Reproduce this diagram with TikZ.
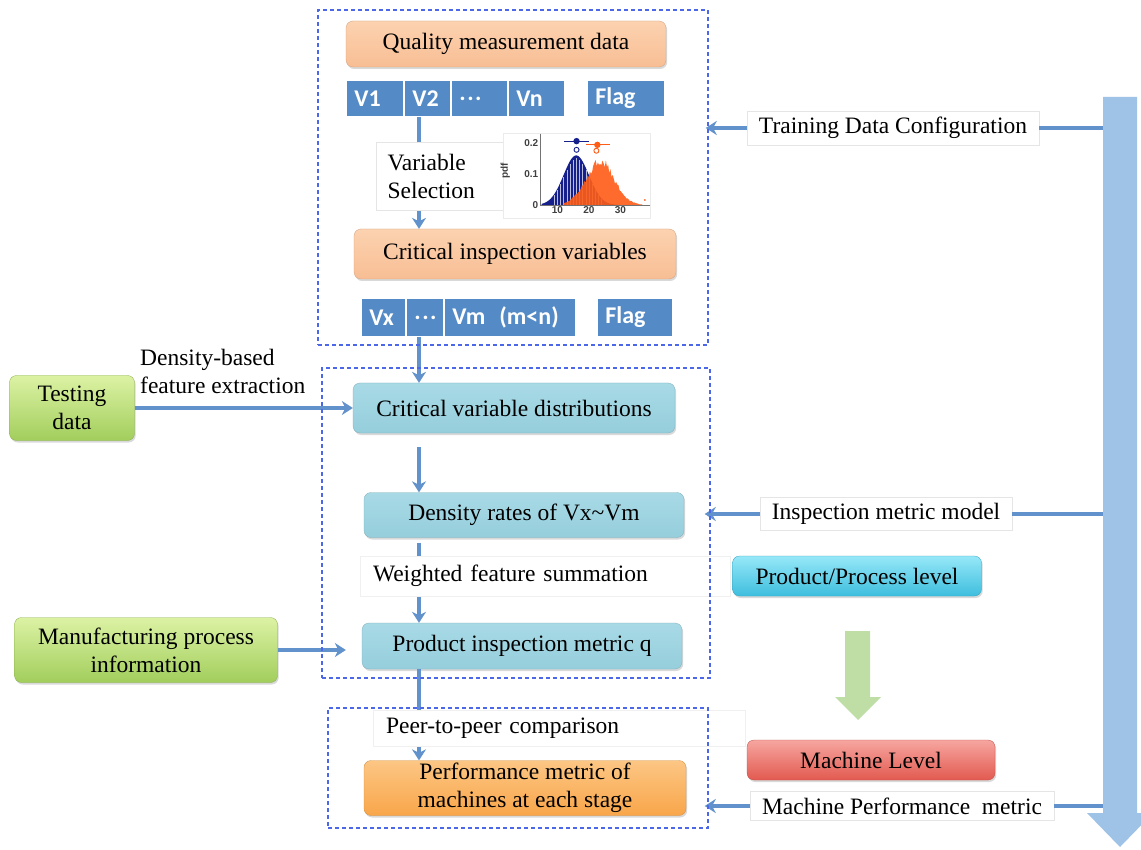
\documentclass[tikz,border=0pt]{standalone}
\usepackage{fontspec}
\setmainfont{Liberation Serif}
\newfontfamily\cellfont{Carlito}
\newfontfamily\plotfont{Liberation Sans}
\usetikzlibrary{calc, positioning, arrows.meta, shadows}
\usepackage{xcolor}
\definecolor{peachtop}{RGB}{252, 210, 176}
\definecolor{peachbot}{RGB}{248, 190, 148}
\definecolor{tealtop}{RGB}{168, 218, 230}
\definecolor{tealbot}{RGB}{150, 206, 220}
\definecolor{greentop}{RGB}{220, 242, 164}
\definecolor{greenbot}{RGB}{162, 206, 92}
\definecolor{orangetop}{RGB}{252, 198, 132}
\definecolor{orangebot}{RGB}{249, 166, 74}
\definecolor{cyantop}{RGB}{150, 232, 248}
\definecolor{cyanbot}{RGB}{62, 190, 222}
\definecolor{redtop}{RGB}{246, 166, 160}
\definecolor{redbot}{RGB}{226, 90, 80}
\definecolor{cellblue}{RGB}{84, 138, 198}
\definecolor{flowblue}{RGB}{98, 146, 204}
\definecolor{dashblue}{RGB}{76, 104, 232}
\definecolor{bigarrow}{RGB}{158, 195, 230}
\definecolor{levelgreen}{RGB}{190, 222, 166}
\definecolor{plotnavy}{RGB}{22, 32, 140}
\definecolor{plotorange}{RGB}{255, 92, 22}

\newcommand\bodysize{\fontsize{23.5}{28}\selectfont}
\newcommand\celldots{.\kern1.5pt.\kern1.5pt.}

\pgfdeclarelayer{front}
\pgfsetlayers{main,front}

\tikzset{
  frame/.style={draw=dashblue, line width=1.4pt, dash pattern=on 4pt off 3pt, inner sep=0pt},
  stage/.style={rounded corners=7pt, inner sep=2pt, align=center,
    drop shadow={opacity=.3, shadow xshift=1.2pt, shadow yshift=-2pt}},
  peachbox/.style={stage, top color=peachtop, bottom color=peachbot, draw=peachbot!85!black, line width=.3pt},
  tealbox/.style={stage, top color=tealtop, bottom color=tealbot, draw=tealbot!85!black, line width=.3pt},
  greenbox/.style={stage, top color=greentop, bottom color=greenbot, draw=greenbot!85!black, line width=.3pt},
  orangebox/.style={stage, top color=orangetop, bottom color=orangebot, draw=orangebot!85!black, line width=.3pt},
  cyanbox/.style={stage, top color=cyantop, bottom color=cyanbot, draw=cyanbot!85!black, line width=.3pt},
  redbox/.style={stage, top color=redtop, bottom color=redbot, draw=redbot!85!black, line width=.3pt},
  cell/.style={anchor=north west, fill=cellblue, draw=white, line width=.8pt, text=white,
    font=\cellfont\bfseries\fontsize{24}{26}\selectfont, inner xsep=8pt, inner ysep=0pt, align=left},
  note/.style={fill=white, draw=black!10, line width=.5pt, inner xsep=12pt, inner ysep=6pt},
  flow/.style={draw=flowblue, line width=3.2pt},
  flowarrow/.style={flow, ->},
  plotlabel/.style={font=\plotfont\bfseries\fontsize{10}{11}\selectfont, text=black!75, inner sep=1.5pt}
}

\begin{document}
\begin{tikzpicture}[x=1pt, y=-1pt, >={Stealth[length=11pt, width=14pt, inset=3.5pt]}, font=\bodysize]
  \useasboundingbox (0,0) rectangle (1141,850);

  % dashed stage frames, kept on top
  \begin{pgfonlayer}{front}
    \node[frame, minimum width=390pt, minimum height=335pt] (topframe) at (513,177.5) {};
    \node[frame, minimum width=388pt, minimum height=310pt] (midframe) at (516,523) {};
    \node[frame, minimum width=380pt, minimum height=120pt] (botframe) at (518,768) {};
  \end{pgfonlayer}

  % training part
  \node[peachbox, minimum width=320pt, minimum height=46pt] (quality) at (506,44) {Quality measurement data};
  \node[cell, text width=41pt, minimum height=36pt] (v1) at (346,80) {V1};
  \node[cell, text width=30pt, minimum height=36pt] (v2) at (404,80) {V2};
  \node[cell, text width=40pt, minimum height=36pt] (vdots) at (451,80) {\celldots};
  \node[cell, text width=40pt, minimum height=36pt] (vn) at (508,80) {Vn};
  \node[cell, text width=61pt, minimum height=36pt] (flagA) at (587,80) {Flag};

  \node[peachbox, minimum width=322pt, minimum height=50pt] (critinsp) at (515,254) {Critical inspection variables};
  \node[cell, text width=28pt, minimum height=38pt] (vx) at (361,298) {Vx};
  \node[cell, text width=21pt, minimum height=38pt] (xdots) at (406,298) {\celldots};
  \node[cell, text width=115pt, minimum height=38pt] (vm) at (444,298) {Vm\hspace{14pt}(m<n)};
  \node[cell, text width=59pt, minimum height=38pt] (flagB) at (597,298) {Flag};

  % metric part
  \node[tealbox, minimum width=322pt, minimum height=50pt] (dist) at (514,408) {Critical variable distributions};
  \node[tealbox, minimum width=320pt, minimum height=45pt] (dens) at (524,515) {Density rates of Vx\textasciitilde Vm};
  \node[tealbox, minimum width=320pt, minimum height=46pt] (prodq) at (522,646) {Product inspection metric q};
  \node[orangebox, minimum width=322pt, minimum height=55pt] (perf) at (525,788) {Performance metric of\\machines at each stage};

  \node[greenbox, minimum width=125pt, minimum height=65pt] (testing) at (72,408) {Testing\\data};
  \node[greenbox, minimum width=263pt, minimum height=65pt] (manu) at (146,650) {Manufacturing process\\information};

  \node[cyanbox, minimum width=249pt, minimum height=40pt] (prodlevel) at (857,576) {Product/Process level};
  \node[redbox, minimum width=248pt, minimum height=40pt] (machlevel) at (871,760) {Machine Level};

  % level arrows
  \fill[levelgreen] (845,631) -- (870,631) -- (870,697) -- (881,697) -- (858,720) -- (835,697) -- (845,697) -- cycle;
  \fill[bigarrow] (1103,97) -- (1137,97) -- (1137,813) -- (1153,813) -- (1120,847) -- (1087,813) -- (1103,813) -- cycle;

  % main flow
  \coordinate (spine) at (419,0);
  \draw[flowarrow] (v2.south -| spine) -- (critinsp.north -| spine);
  \draw[flowarrow] (xdots.south -| spine) -- (dist.north -| spine);
  \draw[flowarrow, shorten <=14pt] (dist.south -| spine) -- (dens.north -| spine);
  \draw[flowarrow, shorten <=5pt] (dens.south -| spine) -- (prodq.north -| spine);
  \draw[flowarrow] (prodq.south -| spine) -- (perf.north -| spine);
  \draw[flowarrow] (testing.east) -- (dist.west);
  \draw[flowarrow, shorten >=16pt] (manu.east) -- (manu.east -| prodq.west);

  % step labels
  \node[note, text width=141pt, inner xsep=11pt, minimum height=68pt, align=left] (sel) at (458,176) {Variable\\Selection};
  \node[note, text width=344pt, inner xsep=13pt, minimum height=40pt, align=left, draw=black!6] (weighted) at (545,576) {Weighted feature summation};
  \node[note, text width=346pt, inner xsep=13pt, minimum height=36pt, align=left, draw=black!6] (peer) at (559,728) {Peer-to-peer comparison};
  \node[anchor=north west, align=left, inner sep=0pt] (densfeat) at (140,349) {Density-based\\feature extraction};

  % density plot
  \fill[white] (503,133) rectangle (650,218);
  \draw[black!8, line width=.5pt] (503,133) rectangle (650,218);
  \begin{scope}[shift={(540,205)}, x=3.15pt, y=310pt]
    \pgfmathsetseed{11}
    \fill[plotnavy] (0.5,0) -- plot[domain=5:30, samples=60] ({\x-4.5},{0.16*exp(-((\x-16)^2)/32)}) -- (25.5,0) -- cycle;
    \foreach \d in {9,10,...,24}
      \draw[white, line width=.35pt, opacity=.7] ({\d-4.5},0) -- ({\d-4.5},{0.15*exp(-((\d-16)^2)/32)});
    \fill[plotorange, opacity=.9] (7.5,0) -- plot[domain=12:37, samples=70] ({\x-4.5},{0.14*exp(-((\x-23.5)^2)/40.5)*(0.85+0.3*rnd)}) -- (32.5,0) -- cycle;
    \draw[plotorange, line width=.5pt] (0.5,0) -- (33.5,0);
    \fill[plotorange] (33.3,0.016) circle[radius=1pt];
    \draw[black!55, line width=.4pt] (0,0.23) -- (0,0) -- (35,0);
    \foreach \t in {0,0.1,0.2}
      \node[plotlabel, left] at (0,\t) {\t};
    \foreach \t in {10,20,30}
      \node[plotlabel, below] at ({\t-4.5},0) {\t};
    \node[plotlabel, rotate=90] at (-11,0.11) {pdf};
    % means with spread
    \draw[plotnavy, line width=.9pt] (7.7,0.206) -- (15.4,0.206);
    \fill[plotnavy] (11.6,0.206) circle[radius=3.2pt];
    \draw[plotnavy, line width=.9pt] (11.6,0.178) circle[radius=2.5pt];
    \draw[plotorange, line width=.9pt] (14.7,0.194) -- (22.2,0.194);
    \fill[plotorange] (18.2,0.194) circle[radius=3.2pt];
    \draw[plotorange, line width=.9pt] (17.9,0.175) circle[radius=2.5pt];
  \end{scope}

  % configuration branches
  \coordinate (cfgtap) at (1103,128);
  \coordinate (modeltap) at (1103,514);
  \coordinate (perftap) at (1103,806);
  \node[note] (cfg) at (893,128) {Training Data Configuration};
  \node[note] (model) at (886,514) {Inspection metric model};
  \node[note] (machmetric) at (902,806) {Machine Performance\ \ metric};
  \draw[flow] (cfgtap) -- (cfg.east);
  \draw[flow] (modeltap) -- (model.east);
  \draw[flow] (perftap) -- (machmetric.east);
  \draw[flowarrow, shorten >=-3pt] (cfg.west) -- (cfg.west -| topframe.east);
  \draw[flowarrow, shorten >=-6pt] (model.west) -- (model.west -| midframe.east);
  \draw[flowarrow, shorten >=-4pt] (machmetric.west) -- (machmetric.west -| botframe.east);
\end{tikzpicture}
\end{document}
